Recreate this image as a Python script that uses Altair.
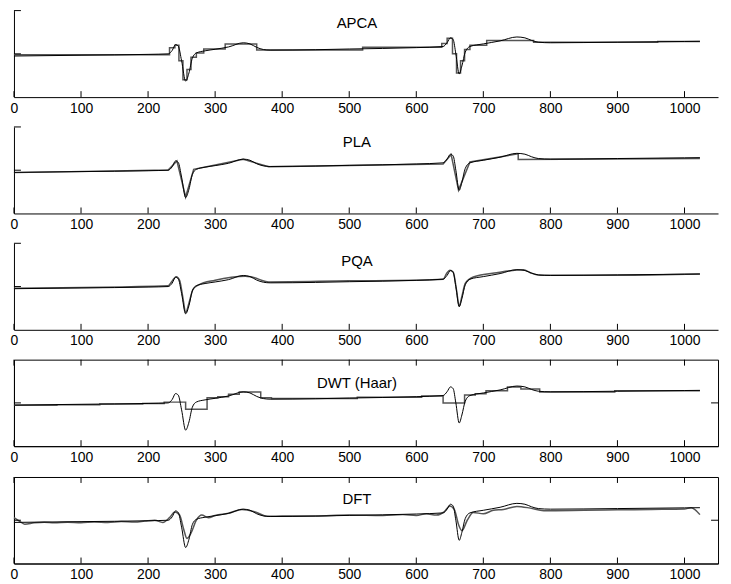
import altair as alt
import pandas as pd

# ---------------- data ----------------
# original time series (two ECG-like beats), normalised 0..1
raw_t = [0, 100, 200, 230, 236, 241, 245, 250, 256, 261, 266, 272, 285, 300, 320, 342, 352, 362, 372, 382,
         450, 500, 600, 640, 646, 651, 655, 659, 664, 668, 673, 680, 700, 725, 750, 762, 772, 782, 800, 900,
         1000, 1023]
raw_v = [0.475, 0.484, 0.494, 0.500, 0.540, 0.608, 0.590, 0.420, 0.185, 0.280, 0.450, 0.510, 0.535, 0.553,
         0.580, 0.628, 0.615, 0.575, 0.550, 0.543, 0.548, 0.556, 0.572, 0.585, 0.630, 0.685, 0.665, 0.500,
         0.268, 0.360, 0.520, 0.585, 0.615, 0.650, 0.695, 0.685, 0.655, 0.635, 0.628, 0.635, 0.643, 0.645]

# APCA: adaptive piecewise constant (segment starts, values)
apca_t = [0, 232, 240, 246, 252, 258, 264, 272, 283, 315, 362, 520, 638, 646, 654, 660, 666, 672, 680, 705,
          775, 960, 1023]
apca_v = [0.490, 0.570, 0.600, 0.420, 0.200, 0.320, 0.460, 0.510, 0.555, 0.615, 0.545, 0.575, 0.620, 0.680,
          0.500, 0.280, 0.420, 0.550, 0.600, 0.655, 0.635, 0.643, 0.643]

# PLA: piecewise linear (vertex list, in drawing order)
pla_t = [0, 230, 243, 256, 268, 342, 380, 640, 652, 663, 680, 752, 752, 1023]
pla_v = [0.472, 0.502, 0.607, 0.190, 0.510, 0.625, 0.540, 0.572, 0.680, 0.270, 0.595, 0.690, 0.625, 0.635]

# PQA: piecewise quadratic
pqa_t = [0, 230, 236, 242, 247, 252, 256, 261, 267, 275, 300, 345, 355, 380, 500, 600, 640, 645, 650, 655,
         660, 664, 668, 673, 685, 720, 760, 770, 785, 900, 1023]
pqa_v = [0.480, 0.510, 0.565, 0.614, 0.573, 0.367, 0.200, 0.310, 0.468, 0.517, 0.573, 0.620, 0.610, 0.554,
         0.566, 0.573, 0.584, 0.648, 0.689, 0.667, 0.460, 0.273, 0.386, 0.536, 0.610, 0.660, 0.693, 0.660,
         0.630, 0.630, 0.645]

# DWT (Haar): piecewise constant on dyadic blocks (block starts, values)
dwt_t = [0, 64, 128, 192, 224, 256, 288, 304, 320, 336, 368, 384, 512, 608, 640, 672, 688, 704, 736, 756,
         784, 896, 1023]
dwt_v = [0.474, 0.479, 0.486, 0.492, 0.509, 0.427, 0.560, 0.570, 0.600, 0.625, 0.560, 0.550, 0.565, 0.580,
         0.500, 0.590, 0.605, 0.640, 0.685, 0.660, 0.625, 0.640, 0.640]

# DFT: truncated Fourier reconstruction
dft_t = [0, 8, 16, 30, 45, 60, 80, 100, 120, 140, 160, 180, 195, 210, 222, 232, 240, 247, 253, 258, 264,
         272, 280, 290, 300, 320, 340, 360, 378, 400, 450, 500, 550, 580, 600, 615, 630, 642, 650, 657, 663,
         668, 676, 685, 700, 715, 730, 750, 770, 790, 850, 900, 950, 1000, 1010, 1023]
dft_v = [0.530, 0.490, 0.455, 0.470, 0.478, 0.470, 0.478, 0.472, 0.480, 0.475, 0.485, 0.480, 0.490, 0.500,
         0.475, 0.530, 0.595, 0.560, 0.400, 0.290, 0.350, 0.500, 0.560, 0.530, 0.555, 0.580, 0.625, 0.595,
         0.545, 0.548, 0.550, 0.560, 0.555, 0.565, 0.555, 0.575, 0.560, 0.600, 0.665, 0.620, 0.450, 0.380,
         0.500, 0.590, 0.575, 0.615, 0.625, 0.660, 0.640, 0.610, 0.615, 0.620, 0.625, 0.630, 0.645, 0.565]

titles = ["APCA", "PLA", "PQA", "DWT (Haar)", "DFT"]
x_ticks = [0, 100, 200, 300, 400, 500, 600, 700, 800, 900, 1000]
y_ticks_open = [0.5, 1.0]
y_ticks_box = [0.5]

# ---------------- style ----------------
W, H = 708, 87
FONT = "Liberation Sans"
title_y = [0.86, 0.82, 0.80, 0.73, 0.74]
xscale = alt.Scale(domain=[0, 1050], nice=False, zero=False)
yscale = alt.Scale(domain=[0, 1], nice=False, zero=False)

xaxis = alt.Axis(values=x_ticks, format="d", ticks=False, grid=False, title=None, labelFont=FONT,
                 labelFontSize=14, labelColor="black", domainColor="black", domainWidth=1, labelPadding=4,
                 labelFlush=False)
yaxis = alt.Axis(ticks=False, labels=False, grid=False, title=None, domainColor="black", domainWidth=1)

raw_df = pd.DataFrame({"t": raw_t, "v": raw_v, "i": range(len(raw_t))})
approx = [
    (apca_t, apca_v, "step-after"),
    (pla_t, pla_v, "linear"),
    (pqa_t, pqa_v, "monotone"),
    (dwt_t, dwt_v, "step-after"),
    (dft_t, dft_v, "monotone"),
]
tick_df = pd.DataFrame({"t": x_ticks})


def panel(k):
    at, av, interp = approx[k]
    adf = pd.DataFrame({"t": at, "v": av, "i": range(len(at))})
    boxed = k >= 3
    layers = []
    layers.append(
        alt.Chart(adf).mark_line(color="#555555", strokeWidth=1.5, interpolate=interp).encode(
            x=alt.X("t:Q", scale=xscale, axis=xaxis),
            y=alt.Y("v:Q", scale=yscale, axis=yaxis),
            order="i:Q",
        )
    )
    layers.append(
        alt.Chart(raw_df).mark_line(color="black", strokeWidth=1, interpolate="monotone").encode(
            x=alt.X("t:Q", scale=xscale), y=alt.Y("v:Q", scale=yscale), order="i:Q"
        )
    )
    # inward x ticks (bottom, and top for boxed panels)
    layers.append(
        alt.Chart(tick_df).mark_rule(color="black", strokeWidth=1).encode(
            x=alt.X("t:Q", scale=xscale), y=alt.value(H), y2=alt.value(H - 6)
        )
    )
    if boxed:
        layers.append(
            alt.Chart(tick_df).mark_rule(color="black", strokeWidth=1).encode(
                x=alt.X("t:Q", scale=xscale), y=alt.value(0), y2=alt.value(6)
            )
        )
    ydf = pd.DataFrame({"v": y_ticks_box if boxed else y_ticks_open})
    layers.append(
        alt.Chart(ydf).mark_rule(color="black", strokeWidth=1).encode(
            y=alt.Y("v:Q", scale=yscale), x=alt.value(0), x2=alt.value(7)
        )
    )
    if boxed:
        layers.append(
            alt.Chart(ydf).mark_rule(color="black", strokeWidth=1).encode(
                y=alt.Y("v:Q", scale=yscale), x=alt.value(W - 7), x2=alt.value(W)
            )
        )
    tdf = pd.DataFrame({"name": [titles[k]], "tx": [raw_t[-1] / 2], "ty": [title_y[k]]})
    layers.append(
        alt.Chart(tdf).mark_text(font=FONT, fontSize=15, color="black", baseline="middle", align="center").encode(
            x=alt.X("tx:Q", scale=xscale), y=alt.Y("ty:Q", scale=yscale), text="name:N"
        )
    )
    ch = alt.layer(*layers).properties(width=W, height=H)
    if boxed:
        ch = ch.properties(view=alt.ViewBackground(stroke="black", strokeWidth=1, strokeOpacity=1))
    else:
        ch = ch.properties(view=alt.ViewBackground(stroke="white", strokeWidth=0, strokeOpacity=0))
    return ch


chart = alt.vconcat(*[panel(k) for k in range(5)], spacing=11).properties(
    padding={"left": 1, "top": 0, "right": 4, "bottom": 0}
).configure_view(strokeWidth=0).configure(background="white")

chart.save("out.html", embed_options={"renderer": "svg", "actions": False})
